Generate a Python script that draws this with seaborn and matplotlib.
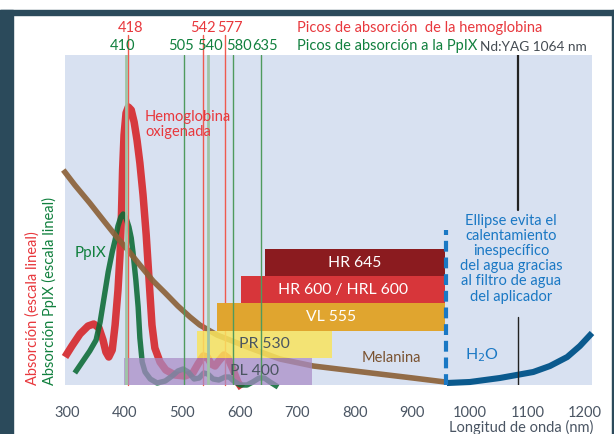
import numpy as np
import pandas as pd
import matplotlib
matplotlib.use("Agg")
import matplotlib.pyplot as plt
from matplotlib.patches import Rectangle
import seaborn as sns

# ---------------- data ----------------
hb_nm = [297, 309, 323, 337, 347, 356, 363, 368, 373, 379, 384, 389, 392.5, 395, 397,
         399.5, 403, 407, 412, 417, 422, 427, 432.5, 438, 443, 448, 453, 462, 472, 488,
         505, 519, 528, 537, 544, 551, 557.5, 564, 573, 580, 589, 597, 604]
hb_abs = [28, 39, 51, 59, 61, 57, 45, 33, 28, 35, 60, 95, 130, 170, 215,
          250, 272, 278, 275, 263, 245, 222, 190, 150, 105, 60, 37, 23, 15, 10,
          9, 12, 21, 29, 28, 21, 19, 24, 30, 27, 15, 3, -3]

ppix_nm = [314, 327, 340, 351, 358, 365, 372, 379, 384, 389, 394, 398, 403, 408, 412,
           415, 420, 424, 427, 431, 436, 445, 457, 471, 483, 493, 502, 511, 521, 530,
           538, 545, 554, 564, 575, 582, 590, 601, 613, 623, 634, 643, 653, 667]
ppix_abs = [12, 23, 34, 45, 63, 88, 113, 133, 145, 159, 168, 171, 167, 158, 147,
            133, 105, 78, 47, 23, 13, 6, 2, 4, 9, 14, 16, 13, 6, 7,
            12, 11, 6, 5, 8, 8, 4, 0, 0, 3, 7, 7, 3, -2]

mel_nm = [294, 314, 340, 366, 384, 406, 427, 450, 471, 493, 514, 531, 561, 592, 618,
          670, 728, 814, 901, 957]
mel_abs = [215, 200, 182, 163, 150, 135, 120, 104, 92, 79, 68, 60, 50, 43, 37,
           26, 19, 13, 7, 3]

h2o_nm = [960, 1000, 1052, 1110, 1139, 1169, 1191, 1212]
h2o_abs = [2, 3, 7, 13, 19, 28, 39, 52]

hb_peak_labels = ["418", "542", "577"]
hb_peak_lines = [407, 537, 574]
ppix_peak_labels = ["410", "505", "540", "580", "635"]
ppix_peak_lines = [403, 504, 545, 588, 638]

bar_names = ["PL 400", "PR 530", "VL 555", "HR 600 / HRL 600", "HR 645"]
bar_start = [400, 526, 561, 603, 644]
bar_end = [726, 760, 957, 957, 957]

water_filter_nm = 958
ndyag_nm = 1084
x_ticks = [300, 400, 500, 600, 700, 800, 900, 1000, 1100, 1200]

# ---------------- style ----------------
sns.set_theme(style="white")
plt.rcParams["font.family"] = ["Lato", "DejaVu Sans"]

W, H = 614, 434
fig = plt.figure(figsize=(W / 100, H / 100), dpi=100)
fig.patch.set_facecolor("white")

frame = "#2b4a5b"
fig.add_artist(Rectangle((0, 1 - 15 / H), 1, 5 / H, transform=fig.transFigure,
                         color=frame, zorder=0))
fig.add_artist(Rectangle((0, 0), 13 / W, 1 - 10 / H, transform=fig.transFigure,
                         color=frame, zorder=0))
fig.add_artist(Rectangle((612 / W, 0), 2 / W, 1 - 10 / H, transform=fig.transFigure,
                         color=frame, zorder=0))

ax = fig.add_axes([65 / W, 1 - 385 / H, (592 - 65) / W, (385 - 55) / H])
ax.set_facecolor("#d8e1f1")
for s in ax.spines.values():
    s.set_visible(False)
ax.set_xlim(297, 1212)
ax.set_ylim(0, 330)

RED = "#d6363a"
GREEN = "#0b6b35"
BROWN = "#8c6239"
WBLUE = "#0b5a8e"
TBLUE = "#1a78c4"
TRED = "#e8383d"
TGREEN = "#11803e"

def curve(x, y, color, lw, z, alpha=0.9):
    df = pd.DataFrame({"nm": x, "a": y})
    sns.lineplot(data=df, x="nm", y="a", ax=ax, color=color, lw=lw, sort=False,
                 estimator=None, zorder=z, alpha=alpha, solid_capstyle="butt")
    ax.lines[-1].set_clip_on(False)

curve(hb_nm, hb_abs, RED, 5.4, 2.0, alpha=0.98)
curve(ppix_nm, ppix_abs, GREEN, 3.9, 2.1, alpha=0.88)
curve(mel_nm, mel_abs, BROWN, 4.0, 2.2, alpha=0.92)
curve(h2o_nm, h2o_abs, WBLUE, 4.4, 2.3, alpha=1.0)

# red peak lines (under bars, extend above axes)
for v in hb_peak_lines:
    ax.plot([v, v], [0, 350], color="#ef5a4e", lw=1.0, zorder=2.5, clip_on=False)

# bars
bar_colors = ["#a98cc6", "#f9e45e", "#e0a52f", "#d7363a", "#8b1b1f"]
bar_alpha = [0.72, 0.85, 1.0, 1.0, 1.0]
bar_text_col = ["#4a5560", "#4a5560", "white", "white", "white"]
bar_text_x = [254, 264, 331, 343, 355]
bh = 27.2
for i, name in enumerate(bar_names):
    yc = bh * i + bh / 2
    ax.barh(yc, bar_end[i] - bar_start[i], left=bar_start[i], height=bh,
            color=bar_colors[i], alpha=bar_alpha[i], zorder=3, linewidth=0)
    xt = 297 + (bar_text_x[i] - 65) / 0.5759
    ax.text(xt, yc, name, color=bar_text_col[i], fontsize=11.3, ha="center",
            va="center", zorder=5)

# green peak lines
for lab, v in zip(ppix_peak_labels, ppix_peak_lines):
    if lab in ("410", "540"):
        ax.axvline(v, color="#9fc4a6", lw=2.0, zorder=4)
    else:
        ax.axvline(v, color="#4f9a5d", lw=1.0, zorder=4)

# water filter dashed line
ax.plot([water_filter_nm, water_filter_nm], [0, 155], color=TBLUE, lw=3.0,
        dashes=(2.6, 1.4), zorder=4)
# Nd:YAG line
ax.plot([ndyag_nm, ndyag_nm], [175, 330], color="#222222", lw=1.6, zorder=4)
ax.plot([ndyag_nm, ndyag_nm], [0, 68], color="#222222", lw=1.0, zorder=4)

# ticks
ax.set_xticks(x_ticks)
ax.set_xticklabels([str(t) for t in x_ticks])
ax.tick_params(axis="x", length=0, pad=15, labelsize=10.5, labelcolor="#4a5563")
ax.set_yticks([])
ax.set_xlabel("")
ax.set_ylabel("")

def px2x(px):
    return 297 + (px - 65) / 0.5759

def py2y(py):
    return 385 - py

# top labels
hb_label_px = [131, 203, 230]
pp_label_px = [123, 181, 210, 239, 265]
for lab, px in zip(hb_peak_labels, hb_label_px):
    ax.text(px2x(px), py2y(28), lab, color=TRED, fontsize=10.5, ha="center",
            va="center", clip_on=False)
for lab, px in zip(ppix_peak_labels, pp_label_px):
    ax.text(px2x(px), py2y(46), lab, color=TGREEN, fontsize=10.5, ha="center",
            va="center", clip_on=False)
ax.text(px2x(297), py2y(28), "Picos de absorción  de la hemoglobina", color=TRED,
        fontsize=10.5, ha="left", va="center", clip_on=False)
ax.text(px2x(297), py2y(46), "Picos de absorción a la PpIX", color=TGREEN,
        fontsize=10.5, ha="left", va="center", clip_on=False)
ax.text(px2x(587), py2y(47), "Nd:YAG 1064 nm", color="#444b52",
        fontsize=9.8, ha="right", va="center", clip_on=False)

# curve labels
ax.text(px2x(145), py2y(110), "Hemoglobina\noxigenada", color=TRED, fontsize=10.5,
        ha="left", va="top", linespacing=1.12, zorder=6)
ax.text(px2x(75), py2y(253), "PpIX", color=TGREEN, fontsize=11, ha="left",
        va="center", zorder=6)
ax.text(px2x(391), py2y(358), "Melanina", color="#7a5230", fontsize=10.5,
        ha="center", va="center", zorder=6)
ax.text(px2x(482), py2y(355), "H$_2$O", color=TBLUE, fontsize=11.5,
        ha="center", va="center", zorder=6)
ax.text(px2x(511), py2y(214),
        "Ellipse evita el\ncalentamiento\ninespecífico\ndel agua gracias\nal filtro de agua\ndel aplicador",
        color=TBLUE, fontsize=10.5, ha="center", va="top", linespacing=1.1, zorder=6)

# axis titles
fig.text(33 / W, 1 - 385 / H, "Absorción (escala lineal)", color=TRED,
         fontsize=10.5, rotation=90, ha="center", va="bottom")
fig.text(49 / W, 1 - 385 / H, "Absorción PpIX (escala lineal)", color=TGREEN,
         fontsize=10.5, rotation=90, ha="center", va="bottom")
fig.text(593 / W, 0.004, "Longitud de onda (nm)", color="#4a5563",
         fontsize=10.5, ha="right", va="baseline")

fig.savefig("out.png", dpi=100, facecolor="white")
